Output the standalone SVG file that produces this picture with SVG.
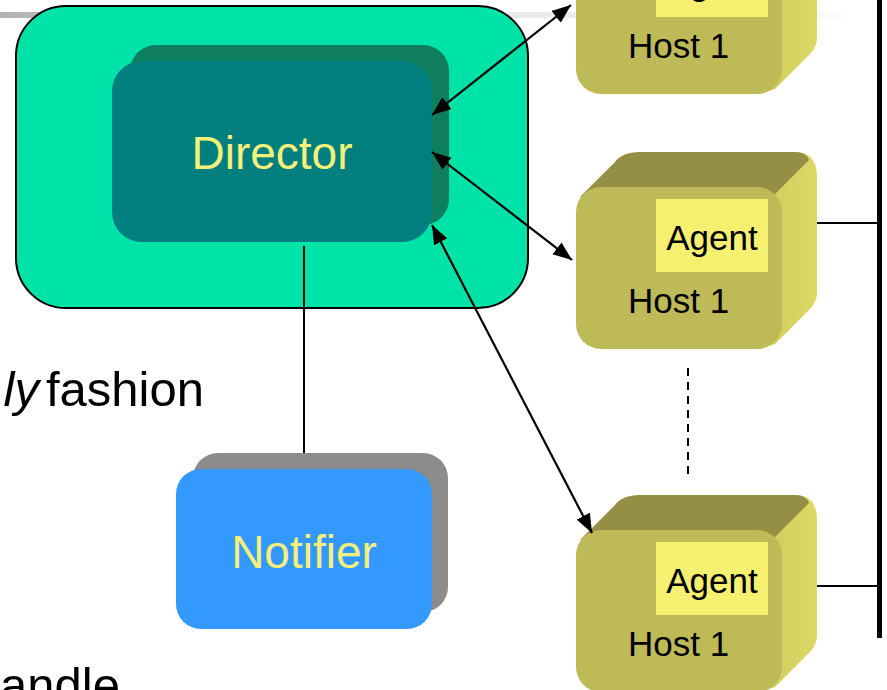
<svg xmlns="http://www.w3.org/2000/svg" xmlns:xlink="http://www.w3.org/1999/xlink" width="887" height="690" viewBox="0 0 887 690">
<style>
  .lbl { font-family: "Liberation Sans", Arial, sans-serif; }
  .big { font-size: 46px; fill: #F5F07A; text-anchor: middle; }
  .host { font-size: 35px; fill: #000; }
  .body { font-family: "Liberation Sans", Arial, sans-serif; font-size: 49px; fill: #000; }
  .conn { stroke: #000; stroke-width: 2; fill: none; }
  .arrow { stroke: #000; stroke-width: 2.2; fill: none; marker-start: url(#ah); marker-end: url(#ah); }
</style>
<defs>
  <linearGradient id="bar" x1="0" y1="0" x2="1" y2="0">
    <stop offset="0" stop-color="#b3b3b3"/>
    <stop offset="0.55" stop-color="#e6e6e6"/>
    <stop offset="1" stop-color="#fbfbfb"/>
  </linearGradient>
  <linearGradient id="side" x1="0" y1="0" x2="1" y2="0">
    <stop offset="0" stop-color="#cfcb5c"/>
    <stop offset="1" stop-color="#dcd967"/>
  </linearGradient>
  <marker id="ah" markerUnits="userSpaceOnUse" markerWidth="20" markerHeight="16" refX="19" refY="7.5" orient="auto-start-reverse">
    <path d="M0,0 L19,7.5 L0,15 Z" fill="#000"/>
  </marker>
  <g id="hostbox">
    <path d="M760,187 L795,152 Q817,152 817,177 L817,292 Q817,302 810,309 L775,344 L760,349 Z" fill="url(#side)"/>
    <path d="M580,197 L615,162 Q622,152 640,152 L795,152 Q806,152 809,160 L774,195 Z" fill="#958F46"/>
    <rect x="576" y="187" width="206" height="162" rx="25" fill="#BDBA57"/>
    <rect x="656" y="199" width="112" height="73" fill="#F5F070"/>
  </g>
</defs>

<rect x="0" y="12" width="842" height="6" fill="url(#bar)"/>

<text class="body" x="39" y="406" text-anchor="end" font-style="italic">ly</text>
<text class="body" x="46" y="406">fashion</text>
<text class="body" x="0" y="702">andle</text>

<g id="director-container">
  <rect x="16" y="6" width="512" height="302" rx="50" fill="#00E3A8" stroke="#000" stroke-width="2"/>
</g>

<g id="director">
  <rect x="130" y="45" width="319" height="180" rx="26" fill="#0E7E5E"/>
  <rect x="112" y="61" width="320" height="181" rx="30" fill="#007F7F"/>
  <text class="lbl big" x="272" y="169">Director</text>
</g>

<g id="notifier">
  <rect x="193" y="453" width="255" height="159" rx="25" fill="#8C8C8C"/>
  <rect x="176" y="469" width="256" height="160" rx="25" fill="#3399FF"/>
  <text class="lbl big" x="304" y="568">Notifier</text>
</g>

<g id="host-top" transform="translate(0,-255)">
  <use xlink:href="#hostbox" href="#hostbox"/>
  <text class="lbl host" x="712" y="250" text-anchor="middle">Agent</text>
  <text class="lbl host" x="628" y="313">Host 1</text>
</g>

<g id="host-middle">
  <use xlink:href="#hostbox" href="#hostbox"/>
  <text class="lbl host" x="712" y="250" text-anchor="middle">Agent</text>
  <text class="lbl host" x="628" y="313">Host 1</text>
</g>

<g id="host-bottom" transform="translate(0,343)">
  <use xlink:href="#hostbox" href="#hostbox"/>
  <text class="lbl host" x="712" y="250" text-anchor="middle">Agent</text>
  <text class="lbl host" x="628" y="313">Host 1</text>
</g>

<g id="bus">
  <rect x="877" y="0" width="5" height="638" fill="#000"/>
</g>

<g id="connectors">
  <line class="conn" x1="304" y1="246" x2="304" y2="453"/>
  <line class="conn" x1="817" y1="223" x2="877" y2="223"/>
  <line class="conn" x1="817" y1="586" x2="877" y2="586"/>
  <line class="conn" x1="688" y1="368" x2="688" y2="474" stroke-dasharray="8 6"/>
  <line class="arrow" x1="432" y1="115" x2="571" y2="5"/>
  <line class="arrow" x1="432" y1="152" x2="572" y2="260"/>
  <line class="arrow" x1="432" y1="225" x2="592" y2="533"/>
</g>
</svg>
